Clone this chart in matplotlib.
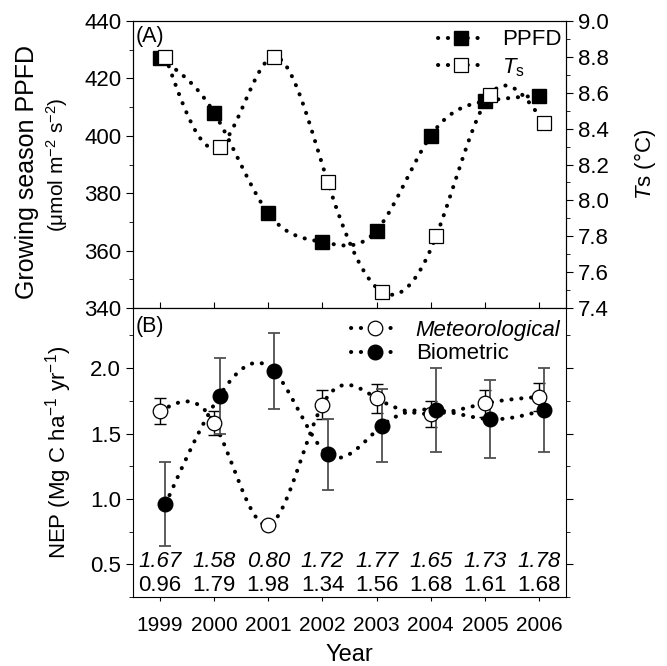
import numpy as np
import matplotlib
matplotlib.use('Agg')
from matplotlib import pyplot as plt
from matplotlib.ticker import MultipleLocator

plt.rcParams['font.family'] = ['Liberation Sans', 'DejaVu Sans']
plt.rcParams['mathtext.fontset'] = 'custom'
plt.rcParams['mathtext.rm'] = 'Liberation Sans'
plt.rcParams['mathtext.it'] = 'Liberation Sans:italic'
plt.rcParams['font.size'] = 16

# data
years = [1999, 2000, 2001, 2002, 2003, 2004, 2005, 2006]
ppfd = [427, 408, 373, 363, 367, 400, 412, 414]
ts = [8.80, 8.30, 8.80, 8.10, 7.49, 7.80, 8.59, 8.43]
nep_met = [1.67, 1.58, 0.80, 1.72, 1.77, 1.65, 1.73, 1.78]
nep_met_err = [0.10, 0.09, 0.03, 0.11, 0.11, 0.10, 0.10, 0.11]
nep_bio = [0.96, 1.79, 1.98, 1.34, 1.56, 1.68, 1.61, 1.68]
nep_bio_err = [0.32, 0.29, 0.29, 0.27, 0.28, 0.32, 0.30, 0.32]


def spline_curve(x, y, num=400):
    # natural cubic spline through the points (for the smooth dotted line)
    x = np.asarray(x, float)
    y = np.asarray(y, float)
    n = len(x)
    h = np.diff(x)
    A = np.zeros((n, n))
    b = np.zeros(n)
    A[0, 0] = A[-1, -1] = 1
    for i in range(1, n - 1):
        A[i, i - 1] = h[i - 1]
        A[i, i] = 2 * (h[i - 1] + h[i])
        A[i, i + 1] = h[i]
        b[i] = 6 * ((y[i + 1] - y[i]) / h[i] - (y[i] - y[i - 1]) / h[i - 1])
    M = np.linalg.solve(A, b)
    xs = np.linspace(x[0], x[-1], num)
    idx = np.clip(np.searchsorted(x, xs) - 1, 0, n - 2)
    x0, x1 = x[idx], x[idx + 1]
    hh = x1 - x0
    t0, t1 = x1 - xs, xs - x0
    ys = (M[idx] * t0 ** 3 / (6 * hh) + M[idx + 1] * t1 ** 3 / (6 * hh)
          + (y[idx] / hh - M[idx] * hh / 6) * t0
          + (y[idx + 1] / hh - M[idx + 1] * hh / 6) * t1)
    return xs, ys


yrs = np.array(years, float)
off = 0.1
dot = dict(linestyle=(0, (0.05, 2.4)), linewidth=2.9, dash_capstyle='round', color='black')

fig = plt.figure(figsize=(6.67, 6.66), dpi=100)
ax1 = fig.add_axes([0.1994, 0.5375, 0.6492, 0.431])
ax2 = fig.add_axes([0.1994, 0.1036, 0.6492, 0.4339])
ax1r = ax1.twinx()

# ---- panel A
xs, ys = spline_curve(yrs, ppfd)
ax1.plot(xs, ys, zorder=2, **dot)
ax1.plot(yrs, ppfd, 's', ms=9.5, mfc='black', mec='black', zorder=3)
xs, ys = spline_curve(yrs + off, ts)
ax1r.plot(xs, ys, zorder=2, **dot)
ax1r.plot(yrs + off, ts, 's', ms=9.5, mfc='white', mec='black', mew=0.9, zorder=3)

ax1.set_xlim(1998.5, 2006.5)
ax1.set_ylim(340, 440)
ax1r.set_ylim(7.4, 9.0)
ax1.yaxis.set_major_locator(MultipleLocator(20))
ax1.yaxis.set_minor_locator(MultipleLocator(10))
ax1r.yaxis.set_major_locator(MultipleLocator(0.2))
ax1r.yaxis.set_minor_locator(MultipleLocator(0.1))
ax1r.yaxis.set_major_formatter(matplotlib.ticker.FormatStrFormatter('%.1f'))
ax1.set_xticks(years)
ax1.tick_params(axis='x', direction='inout', length=8, labelbottom=False)
ax1.tick_params(axis='y', which='major', direction='out', length=5)
ax1.tick_params(axis='y', which='minor', direction='out', length=3)
ax1r.tick_params(axis='y', which='major', direction='out', length=5)
ax1r.tick_params(axis='y', which='minor', direction='out', length=3)
ax1.text(-0.245, 0.474, 'Growing season PPFD', transform=ax1.transAxes, rotation=90,
         ha='center', va='center', fontsize=18)
ax1.text(-0.1755, 0.5, '(\u03bcmol m$^{-2}$ s$^{-2}$)', transform=ax1.transAxes, rotation=90,
         ha='center', va='center', fontsize=15)
ax1r.set_ylabel('$T$s (\u00b0C)', fontsize=16, va='center')
ax1r.yaxis.set_label_coords(1.182, 0.5)
ax1.text(0.006, 0.982, '(A)', transform=ax1.transAxes, ha='left', va='top', fontsize=15.5)

h1, = ax1.plot([], [], marker='s', ms=9.5, mfc='black', mec='black', **dot)
h2, = ax1.plot([], [], marker='s', ms=9.5, mfc='white', mec='black', mew=0.9, **dot)
ax1.legend([h1, h2], ['PPFD', '$T_\\mathrm{s}$'], loc='upper right', bbox_to_anchor=(1.0, 0.986),
           frameon=False, numpoints=1, handlelength=2.1, handletextpad=0.8, labelspacing=0.25,
           borderaxespad=0.05, borderpad=0.15)

# ---- panel B
for i in range(len(years)):
    ax2.errorbar(yrs[i], nep_met[i], yerr=nep_met_err[i], fmt='none', ecolor='black',
                 elinewidth=1.0, capsize=4, capthick=1.0, zorder=3)
    ax2.errorbar(yrs[i] + off, nep_bio[i], yerr=nep_bio_err[i], fmt='none', ecolor='#505050',
                 elinewidth=1.3, capsize=4, capthick=1.3, zorder=3)
xs, ys = spline_curve(yrs, nep_met)
ax2.plot(xs, ys, zorder=2, **dot)
xs, ys = spline_curve(yrs + off, nep_bio)
ax2.plot(xs, ys, zorder=2, **dot)
ax2.plot(yrs, nep_met, 'o', ms=10.5, mfc='white', mec='black', mew=0.9, zorder=4)
ax2.plot(yrs + off, nep_bio, 'o', ms=10.5, mfc='black', mec='black', zorder=5)

for i in range(len(years)):
    ax2.text(yrs[i], 0.525, f'{nep_met[i]:.2f}', style='italic', ha='center', va='center')
    ax2.text(yrs[i], 0.335, f'{nep_bio[i]:.2f}', ha='center', va='center')

ax2.set_xlim(1998.5, 2006.5)
ax2.set_ylim(0.25, 2.46)
ax2.set_yticks([0.5, 1.0, 1.5, 2.0])
ax2.yaxis.set_minor_locator(MultipleLocator(0.25))
ax2.set_xticks(years)
ax2.set_xticklabels([str(y) for y in years], fontsize=15)
ax2.tick_params(axis='x', direction='out', length=3, pad=11, top=False)
ax2.tick_params(axis='y', which='major', direction='out', length=5, right=True)
ax2.tick_params(axis='y', which='minor', direction='out', length=3, right=True)
ax2.set_ylabel('NEP (Mg C ha$^{-1}$ yr$^{-1}$)', fontsize=16, va='center')
ax2.yaxis.set_label_coords(-0.173, 0.5)
ax2.set_xlabel('Year', fontsize=17, labelpad=6)
ax2.text(0.006, 0.972, '(B)', transform=ax2.transAxes, ha='left', va='top', fontsize=15.5)

h3, = ax2.plot([], [], marker='o', ms=10.5, mfc='white', mec='black', mew=0.9, **dot)
h4, = ax2.plot([], [], marker='o', ms=10.5, mfc='black', mec='black', **dot)
leg = ax2.legend([h3, h4], ['Meteorological', 'Biometric'], loc='upper right',
                 bbox_to_anchor=(1.0, 0.977), frameon=False, numpoints=1, handlelength=2.1,
                 handletextpad=0.8, labelspacing=0.1, borderaxespad=0.05, borderpad=0.2)
leg.get_texts()[0].set_style('italic')

fig.savefig('out.png', dpi=100)
